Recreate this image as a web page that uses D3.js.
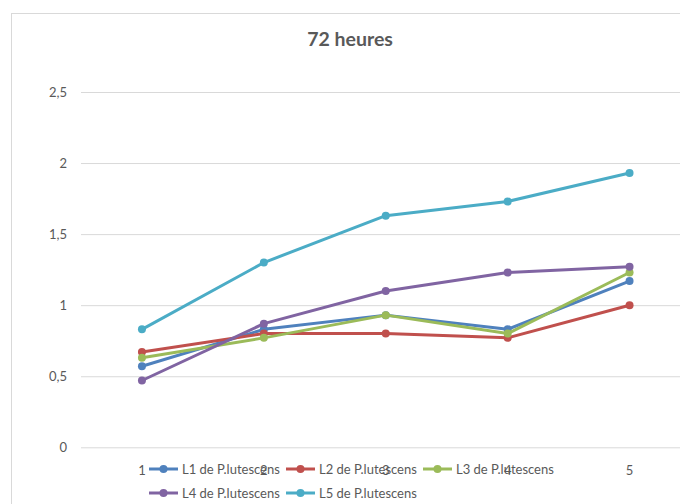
<!DOCTYPE html>
<html>
<head>
<meta charset="utf-8">
<script src="https://cdn.jsdelivr.net/npm/d3@7"></script>
<style>
  html, body { margin: 0; padding: 0; background: #ffffff; }
  svg { display: block; }
  text { font-family: Lato, "Open Sans", sans-serif; fill: #595959; }
</style>
</head>
<body>
<svg id="chart" width="680" height="504"></svg>
<script>
// Measurement points on the x axis
const categories = [1, 2, 3, 4, 5];

// Series values (one array per strain)
const seriesNames = ["L1 de P.lutescens", "L2 de P.lutescens", "L3 de P.lutescens", "L4 de P.lutescens", "L5 de P.lutescens"];
const L1 = [0.57, 0.83, 0.93, 0.83, 1.17];
const L2 = [0.67, 0.80, 0.80, 0.77, 1.00];
const L3 = [0.63, 0.77, 0.93, 0.80, 1.23];
const L4 = [0.47, 0.87, 1.10, 1.23, 1.27];
const L5 = [0.83, 1.30, 1.63, 1.73, 1.93];

// Y axis ticks
const yTicks = [0, 0.5, 1, 1.5, 2, 2.5];

const title = "72 heures";
const colors = ["#4F81BD", "#C0504D", "#9BBB59", "#8064A2", "#4BACC6"];

const series = seriesNames.map((name, i) => ({ name, values: [L1, L2, L3, L4, L5][i], color: colors[i] }));

const svg = d3.select("#chart");

// Chart frame (runs past the visible window on the right and bottom)
svg.append("rect")
  .attr("x", 11.5).attr("y", 13.5)
  .attr("width", 700).attr("height", 520)
  .attr("fill", "#ffffff")
  .attr("stroke", "#d9d9d9").attr("stroke-width", 1);

const x = d3.scaleBand().domain(categories).range([81, 690.5]);
const y = d3.scaleLinear().domain([0, 2.5]).range([447.3, 92]);

const fr = d3.formatLocale({ decimal: ",", thousands: " ", grouping: [3], currency: ["", " €"] });
const fmt = fr.format("~g");

// Horizontal gridlines + labels
const yAxis = d3.axisLeft(y).tickValues(yTicks).tickFormat(fmt)
  .tickSize(-(690.5 - 81)).tickPadding(14);
const gy = svg.append("g").attr("transform", "translate(81,0)").call(yAxis);
gy.select(".domain").remove();
gy.selectAll(".tick line").attr("stroke", "#d9d9d9").attr("stroke-width", 1);
gy.selectAll(".tick text").style("font-size", "13px").attr("fill", "#595959");

// Category labels
const xAxis = d3.axisBottom(x).tickSize(0).tickPadding(18);
const gx = svg.append("g").attr("transform", "translate(0,447.3)").call(xAxis);
gx.select(".domain").remove();
gx.selectAll(".tick text").style("font-size", "13px").attr("fill", "#595959");

// Title
svg.append("text")
  .attr("x", 350).attr("y", 46)
  .attr("text-anchor", "middle")
  .style("font-size", "19.5px").style("font-weight", "bold")
  .text(title);

// Lines and markers
const line = d3.line()
  .x((d, i) => x(categories[i]) + x.bandwidth() / 2)
  .y(d => y(d));

series.forEach(s => {
  const g = svg.append("g");
  g.append("path")
    .attr("d", line(s.values))
    .attr("fill", "none")
    .attr("stroke", s.color)
    .attr("stroke-width", 3)
    .attr("stroke-linejoin", "round");
  g.selectAll("circle")
    .data(s.values)
    .join("circle")
    .attr("cx", (d, i) => x(categories[i]) + x.bandwidth() / 2)
    .attr("cy", d => y(d))
    .attr("r", 4)
    .attr("fill", s.color);
});

// Legend, three entries per row
const legendX0 = 149, legendPitch = 137, rowY = [469, 493];
series.forEach((s, i) => {
  const col = i % 3, row = Math.floor(i / 3);
  const g = svg.append("g")
    .attr("transform", `translate(${legendX0 + col * legendPitch},${rowY[row]})`);
  g.append("line").attr("x1", 0).attr("x2", 29).attr("y1", 0).attr("y2", 0)
    .attr("stroke", s.color).attr("stroke-width", 3);
  g.append("circle").attr("cx", 14.5).attr("cy", 0).attr("r", 4).attr("fill", s.color);
  g.append("text").attr("x", 33).attr("y", 4.5)
    .style("font-size", "13px")
    .text(s.name);
});
</script>
</body>
</html>
